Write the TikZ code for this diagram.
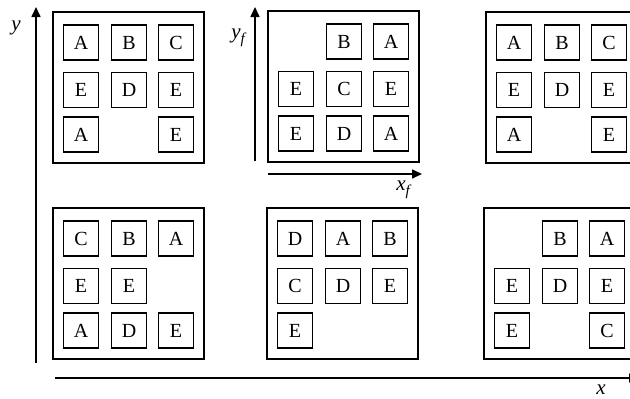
\documentclass[tikz,border=0pt]{standalone}
\usepackage{fontspec}
\setmainfont{Liberation Serif}
\usetikzlibrary{arrows.meta}
\tikzset{
  bigbox/.style={draw,line width=1.6pt,minimum width=151pt,minimum height=151pt,inner sep=0pt,outer sep=0pt},
  cell/.style={draw,line width=1.6pt,minimum size=35pt,inner sep=0pt,font=\fontsize{20}{20}\selectfont},
  axis/.style={line width=1.6pt,-{Triangle[length=10pt,width=9pt]}},
  axlabel/.style={inner sep=0pt,font=\fontsize{21}{21}\selectfont\itshape}
}
\newcommand\panel[4]{%
  \node[bigbox] (box#1) at (#2+75.5,#3+75.5) {};
  \foreach \l [count=\i from 0] in {#4} {%
    \if\l-\else
      \pgfmathsetmacro\cx{#2+{28,76,123}[mod(\i,3)]}%
      \pgfmathsetmacro\cy{#3+{30.5,78,122.5}[int(\i/3)]}%
      \node[cell] (c#1-\i) at (\cx,\cy) {\l};
    \fi
  }%
}
\begin{document}
\begin{tikzpicture}[x=1pt,y=-1pt]
\useasboundingbox (0,0) rectangle (630,399);
\clip (0,0) rectangle (630,399);
\panel{1}{53}{12}{A,B,C,E,D,E,A,-,E}
\panel{2}{268}{11}{-,B,A,E,C,E,E,D,A}
\panel{3}{486}{12}{A,B,C,E,D,E,A,-,E}
\panel{4}{53}{208}{C,B,A,E,E,-,A,D,E}
\panel{5}{267}{208}{D,A,B,C,D,E,E,-,-}
\panel{6}{484}{208}{-,B,A,E,D,E,E,-,C}
% axes
\coordinate (yb) at (36,363);
\coordinate (yt) at (36,7);
\draw[axis] (yb) -- (yt);
\coordinate (xl) at (55,378);
\coordinate (xr) at (639,378);
\draw[axis] (xl) -- (xr);
\coordinate (yfb) at (255,161);
\coordinate (yft) at (255,7);
\draw[axis] (yfb) -- (yft);
\coordinate (xfl) at (268,174);
\coordinate (xfr) at (422,174);
\draw[axis] (xfl) -- (xfr);
% labels
\node[axlabel] (ylab) at (16,28) {y};
\node[axlabel] (yflab) at (238,38) {y\raisebox{-5pt}{\fontsize{15}{15}\selectfont f}};
\node[axlabel] (xflab) at (403,190) {x\raisebox{-5pt}{\fontsize{15}{15}\selectfont f}};
\node[axlabel] (xlab) at (601,390) {x};
\end{tikzpicture}
\end{document}
